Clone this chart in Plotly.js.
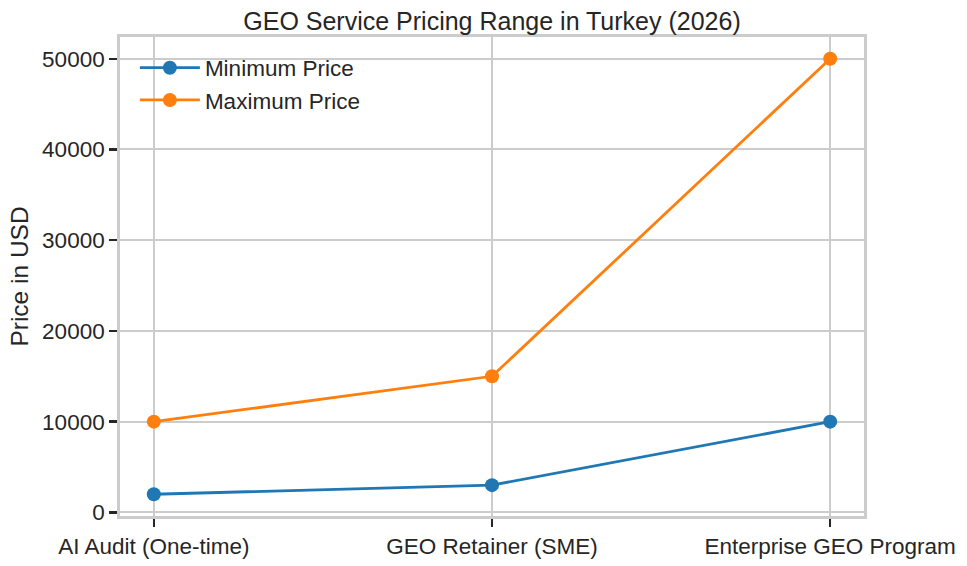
<!DOCTYPE html>
<html>
<head>
<meta charset="utf-8">
<script src="https://cdn.plot.ly/plotly-3.0.1.min.js"></script>
<style>
  html, body { margin: 0; padding: 0; background: #fff; }
  #chart { width: 967px; height: 566px; }
</style>
</head>
<body>
<div id="chart"></div>
<script>
// GEO service pricing, Turkey 2026 -- min / max price per offering (USD)
const services = ['AI Audit (One-time)', 'GEO Retainer (SME)', 'Enterprise GEO Program'];
const minPrice = [2000, 3000, 10000];
const maxPrice = [10000, 15000, 50000];
const yTicks = [0, 10000, 20000, 30000, 40000, 50000];

const TEXT = '#262626';
const GRID = '#cccccc';
const FONT = 'Liberation Sans, Arial, sans-serif';

// matplotlib-style 5% padding around the data
const lo = Math.min(...minPrice, ...maxPrice);
const hi = Math.max(...minPrice, ...maxPrice);
const pad = (hi - lo) * 0.05;
const xPad = (services.length - 1) * 0.05;

function series(name, values, color) {
  return {
    x: services,
    y: values,
    name: name,
    type: 'scatter',
    mode: 'lines+markers',
    line: { color: color, width: 2.8 },
    marker: { color: color, size: 14 },
    hoverinfo: 'x+y'
  };
}

const data = [
  series('Minimum Price', minPrice, '#1f77b4'),
  series('Maximum Price', maxPrice, '#ff7f0e')
];

const axisCommon = {
  showline: true,
  mirror: true,
  linecolor: GRID,
  linewidth: 2.8,
  showgrid: true,
  gridcolor: GRID,
  gridwidth: 2,
  zeroline: false,
  ticks: 'outside',
  ticklen: 8,
  tickwidth: 2.4,
  tickcolor: TEXT,
  tickfont: { family: FONT, size: 22.5, color: TEXT }
};

const layout = {
  width: 967,
  height: 566,
  paper_bgcolor: '#ffffff',
  plot_bgcolor: '#ffffff',
  margin: { l: 120, r: 103, t: 37, b: 50, pad: 0 },
  font: { family: FONT, color: TEXT },
  title: {
    text: 'GEO Service Pricing Range in Turkey (2026)',
    font: { family: FONT, size: 25, color: TEXT },
    x: 0.5,
    xanchor: 'center',
    xref: 'paper',
    y: 1 - 21 / 566,
    yanchor: 'middle'
  },
  xaxis: Object.assign({}, axisCommon, {
    type: 'category',
    range: [-xPad, services.length - 1 + xPad]
  }),
  yaxis: Object.assign({}, axisCommon, {
    range: [lo - pad, hi + pad],
    tickvals: yTicks,
    ticktext: yTicks.map(String),
    title: { text: 'Price in USD', font: { family: FONT, size: 24.5, color: TEXT }, standoff: 7 }
  }),
  showlegend: true,
  legend: {
    x: 0.02,
    y: 0.98,
    xanchor: 'left',
    yanchor: 'top',
    itemwidth: 60,
    bgcolor: 'rgba(255,255,255,0)',
    font: { family: FONT, size: 22.5, color: TEXT }
  }
};

Plotly.newPlot('chart', data, layout, { displayModeBar: false, staticPlot: true });
</script>
</body>
</html>
